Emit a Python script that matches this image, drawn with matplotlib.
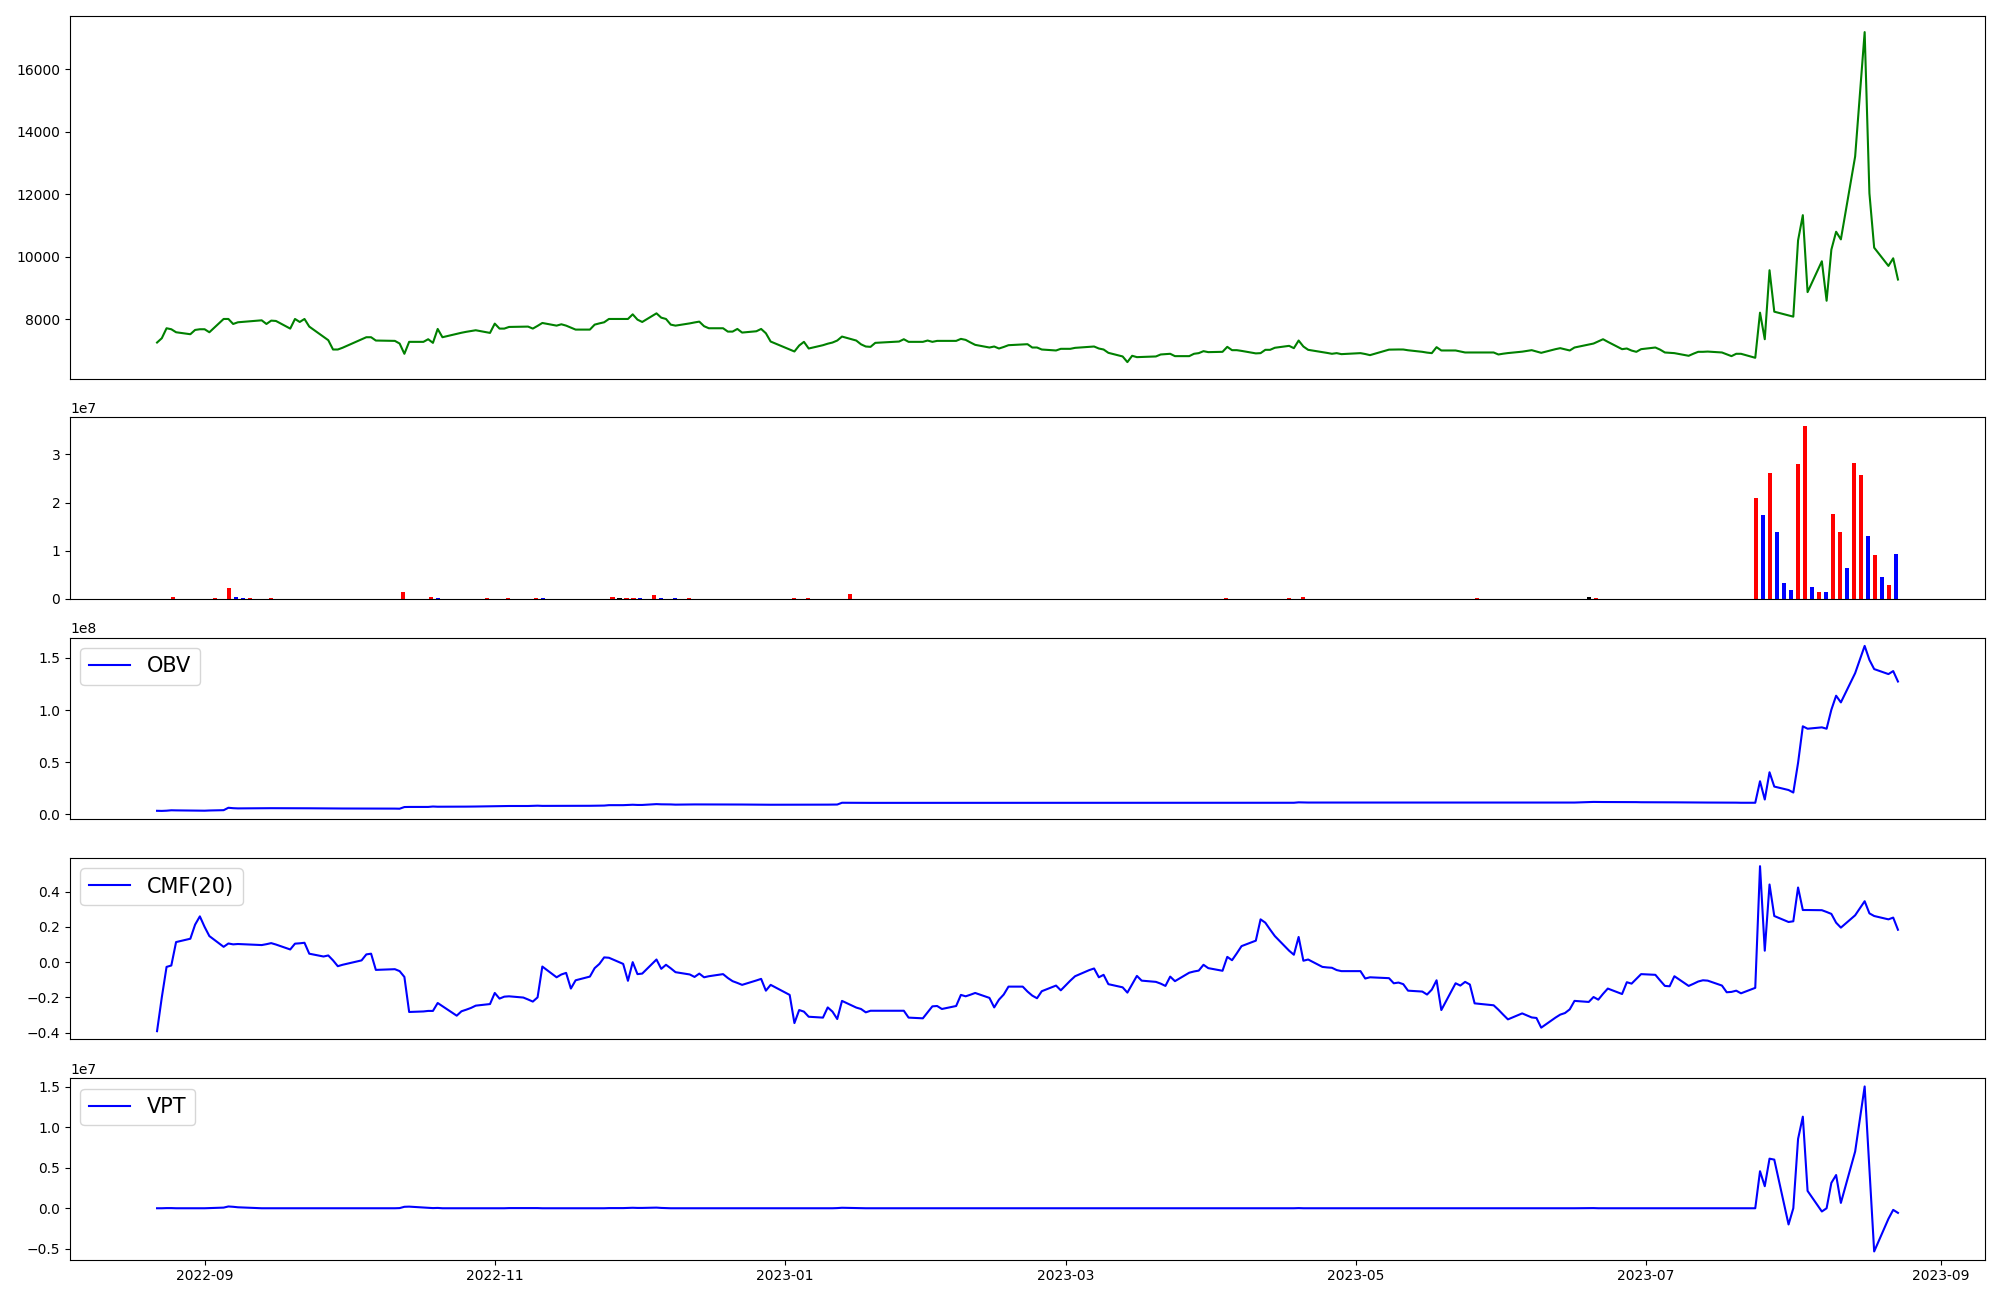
import matplotlib
matplotlib.use("Agg")
import matplotlib.pyplot as plt
import pandas as pd

# ---------------- data ----------------
start_date = "2022-08-22"
end_date = "2023-08-23"
holidays = ["2022-09-09", "2022-09-12", "2022-10-03", "2022-10-10", "2022-12-30",
            "2023-01-23", "2023-01-24", "2023-03-01", "2023-05-01", "2023-05-05",
            "2023-05-29", "2023-06-06", "2023-08-15"]

price = [
    7257, 7395, 7714, 7682, 7586, 7523, 7660, 7682, 7682, 7586,
    8011, 8011, 7851, 7905, 7968, 7851, 7958, 7947, 7703, 8011,
    7915, 8011, 7767, 7440, 7332, 7034, 7034, 7090, 7360, 7427,
    7427, 7321, 7310, 7225, 6897, 7279, 7279, 7363, 7247, 7692,
    7427, 7535, 7570, 7600, 7625, 7650, 7565, 7862, 7703, 7703,
    7756, 7765, 7767, 7703, 7790, 7883, 7798, 7841, 7798, 7735,
    7671, 7671, 7830, 7870, 7905, 8011, 8011, 8011, 8159, 7990,
    7915, 8191, 8053, 8011, 7830, 7798, 7870, 7900, 7926, 7780,
    7714, 7714, 7607, 7607, 7692, 7576, 7618, 7692, 7554, 7289,
    7035, 6971, 7162, 7279, 7066, 7172, 7220, 7257, 7321, 7448,
    7321, 7200, 7130, 7119, 7247, 7289, 7363, 7279, 7279, 7321,
    7279, 7310, 7310, 7310, 7374, 7342, 7260, 7183, 7098, 7130,
    7066, 7115, 7172, 7195, 7204, 7098, 7098, 7034, 7003, 7056,
    7056, 7087, 7120, 7130, 7066, 7034, 6928, 6812, 6631, 6833,
    6790, 6795, 6812, 6875, 6886, 6897, 6822, 6822, 6897, 6918,
    6981, 6950, 6960, 7119, 7013, 7013, 6990, 6910, 6918, 7024,
    7024, 7090, 7151, 7077, 7321, 7130, 7024, 6950, 6925, 6897,
    6918, 6886, 6918, 6890, 6854, 7030, 7033, 7035, 7034, 7010,
    6960, 6935, 6918, 7109, 7003, 7003, 6970, 6939, 6939, 6939,
    6939, 6875, 6900, 6920, 6965, 7013, 6970, 6928, 7045, 7077,
    7040, 7003, 7098, 7195, 7225, 7295, 7363, 7280, 7045, 7066,
    7000, 6960, 7045, 7098, 7030, 6939, 6930, 6918, 6833, 6900,
    6960, 6960, 6968, 6939, 6880, 6822, 6897, 6897, 6769, 8212,
    7363, 9570, 8244, 8125, 8085, 10525, 11332, 8870, 9857, 8594,
    10228, 10801, 10557, 13210, 17188, 12032, 10292, 9708, 9952, 9273,
]

# visible volume bars: bar position (row number), volume, colour; other rows ~0
vol_idx = [2, 8, 10, 11, 12, 13, 16, 35, 39, 40, 47, 50, 54, 55, 65, 66, 67, 68, 69,
           71, 72, 74, 76, 91, 93, 99, 153, 162, 164, 189, 205, 206,
           229, 230, 231, 232, 233, 234, 235, 236, 237, 238, 239, 240, 241, 242,
           243, 244, 245, 246, 247, 248, 249]
volume = [4e5, 2e5, 2.3e6, 4e5, 2e5, 2e5, 2e5, 1.5e6, 4e5, 2e5, 2e5, 2e5, 2e5, 2e5,
          4e5, 2e5, 2e5, 2e5, 2e5, 8e5, 2e5, 2e5, 2e5, 1e5, 1e5, 1.0e6, 1e5, 1e5,
          3e5, 1e5, 4e5, 2e5,
          2.10e7, 1.74e7, 2.61e7, 1.39e7, 0.33e7, 0.19e7, 2.80e7, 3.59e7, 0.25e7,
          0.15e7, 0.15e7, 1.76e7, 1.39e7, 0.64e7, 2.82e7, 2.57e7, 1.31e7, 0.91e7,
          0.46e7, 0.29e7, 0.93e7]
vol_colors = ["red", "red", "red", "blue", "blue", "red", "red", "red", "red", "blue",
              "red", "red", "red", "blue", "red", "black", "red", "red", "blue",
              "red", "blue", "blue", "red", "red", "red", "red", "red", "red",
              "red", "red", "black", "red",
              "red", "blue", "red", "blue", "blue", "blue", "red", "red", "blue",
              "red", "blue", "red", "red", "blue", "red", "red", "blue", "red",
              "blue", "red", "blue"]

obv = [
    0.035e8, 0.034e8, 0.036e8, 0.040e8, 0.039e8, 0.038e8, 0.037e8, 0.037e8, 0.036e8, 0.038e8,
    0.041e8, 0.064e8, 0.060e8, 0.058e8, 0.060e8, 0.061e8, 0.060e8, 0.060e8, 0.059e8, 0.060e8,
    0.059e8, 0.060e8, 0.059e8, 0.058e8, 0.058e8, 0.057e8, 0.057e8, 0.057e8, 0.057e8, 0.057e8,
    0.056e8, 0.056e8, 0.056e8, 0.055e8, 0.071e8, 0.072e8, 0.072e8, 0.072e8, 0.076e8, 0.074e8,
    0.074e8, 0.075e8, 0.075e8, 0.075e8, 0.076e8, 0.076e8, 0.078e8, 0.079e8, 0.079e8, 0.079e8,
    0.081e8, 0.081e8, 0.081e8, 0.083e8, 0.084e8, 0.082e8, 0.082e8, 0.082e8, 0.083e8, 0.083e8,
    0.083e8, 0.083e8, 0.084e8, 0.084e8, 0.085e8, 0.089e8, 0.089e8, 0.091e8, 0.093e8, 0.091e8,
    0.091e8, 0.099e8, 0.097e8, 0.097e8, 0.096e8, 0.094e8, 0.096e8, 0.096e8, 0.096e8, 0.095e8,
    0.095e8, 0.095e8, 0.095e8, 0.095e8, 0.095e8, 0.095e8, 0.094e8, 0.094e8, 0.094e8, 0.093e8,
    0.093e8, 0.093e8, 0.094e8, 0.094e8, 0.094e8, 0.094e8, 0.094e8, 0.095e8, 0.095e8, 0.112e8,
    0.111e8, 0.111e8, 0.111e8, 0.111e8, 0.111e8, 0.111e8, 0.111e8, 0.111e8, 0.111e8, 0.111e8,
    0.111e8, 0.111e8, 0.111e8, 0.111e8, 0.111e8, 0.111e8, 0.111e8, 0.111e8, 0.111e8, 0.111e8,
    0.111e8, 0.111e8, 0.111e8, 0.110e8, 0.110e8, 0.110e8, 0.110e8, 0.110e8, 0.110e8, 0.110e8,
    0.110e8, 0.110e8, 0.110e8, 0.110e8, 0.110e8, 0.110e8, 0.110e8, 0.110e8, 0.110e8, 0.110e8,
    0.110e8, 0.110e8, 0.110e8, 0.110e8, 0.110e8, 0.110e8, 0.110e8, 0.110e8, 0.110e8, 0.110e8,
    0.110e8, 0.110e8, 0.110e8, 0.111e8, 0.111e8, 0.111e8, 0.111e8, 0.111e8, 0.111e8, 0.111e8,
    0.111e8, 0.111e8, 0.112e8, 0.112e8, 0.116e8, 0.115e8, 0.114e8, 0.114e8, 0.114e8, 0.114e8,
    0.114e8, 0.114e8, 0.114e8, 0.114e8, 0.114e8, 0.114e8, 0.114e8, 0.114e8, 0.114e8, 0.114e8,
    0.114e8, 0.114e8, 0.114e8, 0.114e8, 0.114e8, 0.114e8, 0.114e8, 0.114e8, 0.114e8, 0.114e8,
    0.114e8, 0.114e8, 0.114e8, 0.114e8, 0.114e8, 0.114e8, 0.114e8, 0.114e8, 0.114e8, 0.114e8,
    0.114e8, 0.114e8, 0.114e8, 0.118e8, 0.120e8, 0.119e8, 0.119e8, 0.119e8, 0.118e8, 0.118e8,
    0.118e8, 0.118e8, 0.117e8, 0.117e8, 0.117e8, 0.116e8, 0.116e8, 0.116e8, 0.115e8, 0.115e8,
    0.115e8, 0.114e8, 0.114e8, 0.114e8, 0.113e8, 0.113e8, 0.113e8, 0.112e8, 0.112e8, 0.318e8,
    0.143e8, 0.404e8, 0.267e8, 0.234e8, 0.210e8, 0.494e8, 0.844e8, 0.821e8, 0.834e8, 0.821e8,
    1.003e8, 1.137e8, 1.073e8, 1.353e8, 1.614e8, 1.480e8, 1.392e8, 1.344e8, 1.373e8, 1.273e8,
]

cmf = [
    -0.392, -0.200, -0.027, -0.019, 0.114, 0.133, 0.213, 0.260, 0.200, 0.148,
    0.087, 0.106, 0.101, 0.103, 0.097, 0.102, 0.108, 0.100, 0.072, 0.105,
    0.107, 0.110, 0.048, 0.032, 0.038, 0.010, -0.023, -0.015, 0.010, 0.044,
    0.048, -0.044, -0.040, -0.051, -0.084, -0.283, -0.280, -0.277, -0.277, -0.232,
    -0.250, -0.304, -0.279, -0.270, -0.260, -0.247, -0.238, -0.175, -0.207, -0.196,
    -0.194, -0.201, -0.212, -0.224, -0.200, -0.025, -0.086, -0.070, -0.061, -0.150,
    -0.103, -0.082, -0.034, -0.010, 0.027, 0.025, -0.010, -0.106, 0.000, -0.068,
    -0.065, 0.015, -0.038, -0.015, -0.035, -0.057, -0.070, -0.084, -0.065, -0.086,
    -0.080, -0.068, -0.090, -0.108, -0.118, -0.129, -0.104, -0.095, -0.162, -0.129,
    -0.186, -0.346, -0.272, -0.281, -0.310, -0.315, -0.257, -0.281, -0.323, -0.220,
    -0.258, -0.266, -0.285, -0.276, -0.276, -0.276, -0.276, -0.315, -0.319, -0.285,
    -0.251, -0.249, -0.266, -0.249, -0.186, -0.194, -0.185, -0.175, -0.203, -0.257,
    -0.213, -0.184, -0.139, -0.139, -0.167, -0.190, -0.205, -0.165, -0.133, -0.160,
    -0.105, -0.080, -0.045, -0.036, -0.086, -0.072, -0.125, -0.143, -0.173, -0.125,
    -0.078, -0.105, -0.112, -0.122, -0.135, -0.082, -0.108, -0.060, -0.053, -0.048,
    -0.015, -0.034, -0.049, 0.030, 0.011, 0.050, 0.091, 0.122, 0.243, 0.224,
    0.185, 0.148, 0.065, 0.042, 0.143, 0.008, 0.015, -0.027, -0.030, -0.032,
    -0.045, -0.051, -0.051, -0.093, -0.086, -0.091, -0.120, -0.116, -0.125, -0.162,
    -0.167, -0.184, -0.156, -0.103, -0.272, -0.120, -0.133, -0.112, -0.127, -0.234,
    -0.245, -0.270, -0.298, -0.325, -0.291, -0.314, -0.317, -0.372, -0.315, -0.298,
    -0.289, -0.268, -0.220, -0.226, -0.198, -0.213, -0.180, -0.150, -0.181, -0.114,
    -0.122, -0.095, -0.068, -0.072, -0.104, -0.135, -0.137, -0.080, -0.135, -0.123,
    -0.110, -0.103, -0.105, -0.133, -0.171, -0.169, -0.162, -0.177, -0.146, 0.545,
    0.065, 0.441, 0.262, 0.228, 0.232, 0.424, 0.296, 0.296, 0.295, 0.285,
    0.274, 0.224, 0.196, 0.266, 0.346, 0.277, 0.262, 0.243, 0.253, 0.184,
]

vpt = [
    0.000e7, 0.000e7, 0.002e7, 0.002e7, 0.000e7, 0.000e7, 0.000e7, 0.000e7, 0.000e7, 0.002e7,
    0.008e7, 0.022e7, 0.018e7, 0.012e7, 0.000e7, 0.000e7, 0.000e7, 0.000e7, 0.000e7, 0.000e7,
    0.000e7, 0.000e7, 0.000e7, 0.000e7, 0.000e7, 0.000e7, 0.000e7, 0.000e7, 0.000e7, 0.000e7,
    0.000e7, 0.000e7, 0.000e7, 0.002e7, 0.018e7, 0.020e7, 0.010e7, 0.006e7, 0.002e7, 0.004e7,
    0.000e7, 0.000e7, 0.000e7, 0.000e7, 0.000e7, 0.000e7, 0.000e7, 0.000e7, 0.000e7, 0.000e7,
    0.002e7, 0.002e7, 0.002e7, 0.002e7, 0.002e7, 0.000e7, 0.000e7, 0.000e7, 0.000e7, 0.000e7,
    0.000e7, 0.000e7, 0.000e7, 0.000e7, 0.000e7, 0.002e7, 0.002e7, 0.004e7, 0.006e7, 0.004e7,
    0.004e7, 0.008e7, 0.004e7, 0.002e7, 0.000e7, 0.000e7, 0.000e7, 0.000e7, 0.000e7, 0.000e7,
    0.000e7, 0.000e7, 0.000e7, 0.000e7, 0.000e7, 0.000e7, 0.000e7, 0.000e7, 0.000e7, 0.000e7,
    0.000e7, 0.000e7, 0.000e7, 0.000e7, 0.000e7, 0.000e7, 0.000e7, 0.000e7, 0.002e7, 0.006e7,
    0.002e7, 0.000e7, 0.000e7, 0.000e7, 0.000e7, 0.000e7, 0.000e7, 0.000e7, 0.000e7, 0.000e7,
    0.000e7, 0.000e7, 0.000e7, 0.000e7, 0.000e7, 0.000e7, 0.000e7, 0.000e7, 0.000e7, 0.000e7,
    0.000e7, 0.000e7, 0.000e7, 0.000e7, 0.000e7, 0.000e7, 0.000e7, 0.000e7, 0.000e7, 0.000e7,
    0.000e7, 0.000e7, 0.000e7, 0.000e7, 0.000e7, 0.000e7, 0.000e7, 0.000e7, 0.000e7, 0.000e7,
    0.000e7, 0.000e7, 0.000e7, 0.000e7, 0.000e7, 0.000e7, 0.000e7, 0.000e7, 0.000e7, 0.000e7,
    0.000e7, 0.000e7, 0.000e7, 0.000e7, 0.000e7, 0.000e7, 0.000e7, 0.000e7, 0.000e7, 0.000e7,
    0.000e7, 0.000e7, 0.000e7, 0.000e7, 0.002e7, 0.000e7, 0.000e7, 0.000e7, 0.000e7, 0.000e7,
    0.000e7, 0.000e7, 0.000e7, 0.000e7, 0.000e7, 0.000e7, 0.000e7, 0.000e7, 0.000e7, 0.000e7,
    0.000e7, 0.000e7, 0.000e7, 0.000e7, 0.000e7, 0.000e7, 0.000e7, 0.000e7, 0.000e7, 0.000e7,
    0.000e7, 0.000e7, 0.000e7, 0.000e7, 0.000e7, 0.000e7, 0.000e7, 0.000e7, 0.000e7, 0.000e7,
    0.000e7, 0.000e7, 0.000e7, 0.002e7, 0.002e7, 0.000e7, 0.000e7, 0.000e7, 0.000e7, 0.000e7,
    0.000e7, 0.000e7, 0.000e7, 0.000e7, 0.000e7, 0.000e7, 0.000e7, 0.000e7, 0.000e7, 0.000e7,
    0.000e7, 0.000e7, 0.000e7, 0.000e7, 0.000e7, 0.000e7, 0.000e7, 0.000e7, 0.000e7, 0.457e7,
    0.272e7, 0.612e7, 0.600e7, -0.200e7, 0.000e7, 0.855e7, 1.130e7, 0.214e7, -0.040e7, 0.000e7,
    0.313e7, 0.410e7, 0.066e7, 0.700e7, 1.503e7, 0.480e7, -0.533e7, -0.130e7, -0.020e7, -0.057e7,
]

# ---------------- figure ----------------
dates = pd.bdate_range(start_date, end_date)
dates = dates[~dates.isin(pd.to_datetime(holidays))]
n = len(price)

# volume panel is drawn against row numbers (all rows, invisible ones at 0)
vol_full = [0.0] * n
col_full = ["red"] * n
for i, v, c in zip(vol_idx, volume, vol_colors):
    vol_full[i] = v
    col_full[i] = c

fig, axes = plt.subplots(5, 1, figsize=(20, 13), dpi=100,
                         gridspec_kw=dict(height_ratios=[2, 1, 1, 1, 1]))
fig.subplots_adjust(left=0.035, right=0.9925, top=0.988, bottom=0.031, hspace=0.178)

ax0, ax1, ax2, ax3, ax4 = axes
for ax in (ax2, ax3, ax4):
    ax.sharex(ax0)

ax0.plot(dates, price, color="green")

ax1.bar(range(n), vol_full, color=col_full, width=0.6)

ax2.plot(dates, obv, color="blue", label="OBV")
ax2.legend(loc="upper left", fontsize=15)

ax3.plot(dates, cmf, color="blue", label="CMF(20)")
ax3.legend(loc="upper left", fontsize=15)

ax4.plot(dates, vpt, color="blue", label="VPT")
ax4.legend(loc="upper left", fontsize=15)

for ax in axes[:4]:
    ax.tick_params(axis="x", bottom=False, labelbottom=False)

fig.savefig("out.png", dpi=100)
